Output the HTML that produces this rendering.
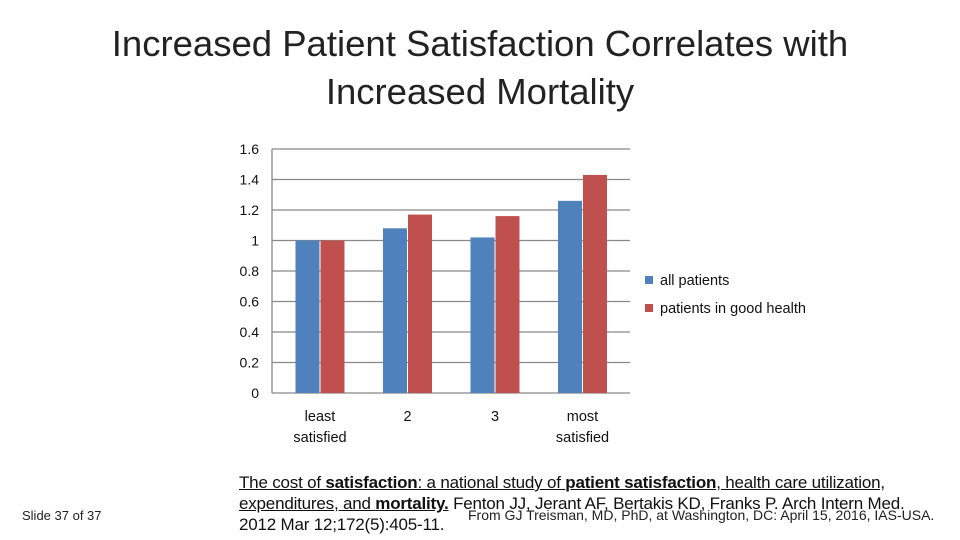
<!DOCTYPE html>
<html><head><meta charset="utf-8"><style>
body{margin:0;background:#fff;width:960px;height:540px;overflow:hidden;font-family:"Liberation Sans",sans-serif;position:relative}
.t{position:absolute;left:0;width:960px;text-align:center;font-size:36.5px;color:#222}
</style></head><body>
<div class="t" style="top:20px;line-height:48px">Increased Patient Satisfaction Correlates with<br>Increased Mortality</div>
<svg id="c" width="960" height="540" style="position:absolute;left:0;top:0"></svg>
<div style="position:absolute;left:22px;top:508px;font-size:13px;color:#222">Slide 37 of 37</div>
<div style="position:absolute;left:239px;top:472px;font-size:17px;line-height:21px;color:#111;white-space:nowrap;letter-spacing:-0.2px">
<u>The cost of <b>satisfaction</b>: a national study of <b>patient satisfaction</b>, health care utilization,</u><br>
<u>expenditures, and <b>mortality.</b></u> Fenton JJ, Jerant AF, Bertakis KD, Franks P. Arch Intern Med.<br>
2012 Mar 12;172(5):405-11.</div>
<div style="position:absolute;left:468px;top:507px;font-size:14px;color:#222;white-space:nowrap">From GJ Treisman, MD, PhD, at Washington, DC: April 15, 2016, IAS-USA.</div>
<script>
const categories=["least|satisfied","2","3","most|satisfied"];
const allPatients=[1.0,1.08,1.02,1.26];
const goodHealth=[1.0,1.17,1.16,1.43];
const ticks=[0,0.2,0.4,0.6,0.8,1,1.2,1.4,1.6];
const tickLabels=["0","0.2","0.4","0.6","0.8","1","1.2","1.4","1.6"];
const NS="http://www.w3.org/2000/svg";
const svg=document.getElementById('c');
const x0=272,x1=630,y0=393,y1=149,ymax=1.6;
const y=v=>y0-(v/ymax)*(y0-y1);
const band=87.5, firstCenter=320;
const bw=24;
function el(t,a){const e=document.createElementNS(NS,t);for(const k in a)e.setAttribute(k,a[k]);svg.appendChild(e);return e;}
ticks.forEach((t,i)=>{
 const g=el('line',{x1:x0,x2:x1,y1:y(t),y2:y(t),stroke:'#888','stroke-width':1.3});
 
 
 const tx=el('text',{x:259,y:y(t)+5,'text-anchor':'end','font-size':14,fill:'#111','font-family':'Liberation Sans'});
 tx.textContent=tickLabels[i];
 
 
});
const ax=el('line',{x1:x0,x2:x0,y1:y1,y2:y0,stroke:'#888','stroke-width':1.3});


categories.forEach((c,i)=>{
 const cx=firstCenter+band*i;
 const b1=el('rect',{x:cx-bw-0.5,y:y(allPatients[i]),width:bw,height:y0-y(allPatients[i]),fill:'#4f81bd'});
 
 
 const b2=el('rect',{x:cx+0.5,y:y(goodHealth[i]),width:bw,height:y0-y(goodHealth[i]),fill:'#c0504d'});
 
 
 c.split('|').forEach((l,j)=>{
  const t=el('text',{x:cx,y:421+j*21,'text-anchor':'middle','font-size':14.5,fill:'#111','font-family':'Liberation Sans'});
  t.textContent=l;
  
  
 });
});
[["all patients","#4f81bd",280],["patients in good health","#c0504d",308]].forEach(d=>{
 const r=el('rect',{x:645,y:d[2]-4,width:8,height:8,fill:d[1]});
 
 
 const t=el('text',{x:660,y:d[2]+5,'font-size':14.5,fill:'#111','font-family':'Liberation Sans'});
 t.textContent=d[0];
 
 
});
</script>
</body></html>
